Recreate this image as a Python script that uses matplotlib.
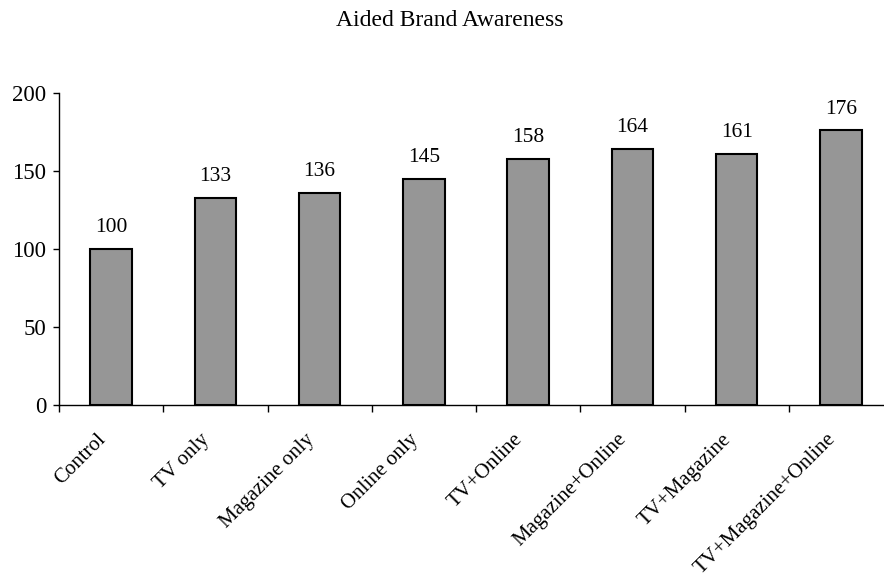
import matplotlib
matplotlib.use("Agg")
import matplotlib.pyplot as plt
import matplotlib.transforms as mtransforms
import numpy as np

categories = ["Control", "TV only", "Magazine only", "Online only", "TV+Online",
              "Magazine+Online", "TV+Magazine", "TV+Magazine+Online"]
values = [100, 133, 136, 145, 158, 164, 161, 176]
yticks = [0, 50, 100, 150, 200]
title = "Aided Brand Awareness"

plt.rcParams['font.family'] = ['Liberation Serif', 'DejaVu Serif']

fig = plt.figure(figsize=(8.84, 5.77), dpi=100)
ax = fig.add_axes([59/884, 1-405/577, (893-59)/884, (405-93)/577])

x = np.arange(len(categories))
ax.bar(x, values, width=0.4, color="#969696", edgecolor="black", linewidth=1.5, zorder=3)
for xi, v in zip(x, values):
    ax.annotate(str(v), (xi, v), xytext=(0, 12), textcoords="offset points",
                ha="center", va="baseline", fontsize=15.5)

ax.set_xlim(-0.5, len(categories) - 0.5)
ax.set_ylim(0, 200)
ax.set_yticks(yticks)
ax.tick_params(axis='y', labelsize=16.5, length=4, width=1, direction='out', pad=5)

ax.set_xticks(x)
ax.set_xticklabels(categories, rotation=45, ha='right', va='top',
                   rotation_mode='anchor', fontsize=15)
ax.tick_params(axis='x', which='major', length=0, pad=18)
shift = mtransforms.ScaledTranslation(-15/100, 0, fig.dpi_scale_trans)
for lab in ax.get_xticklabels():
    lab.set_transform(lab.get_transform() + shift)
ax.set_xticks(np.arange(len(categories)) - 0.5, minor=True)
ax.tick_params(axis='x', which='minor', length=5, width=1, direction='out')

for s in ['top', 'right']:
    ax.spines[s].set_visible(False)
for s in ['left', 'bottom']:
    ax.spines[s].set_linewidth(1)

fig.text(450/884, 1-20/577, title, ha='center', va='center', fontsize=17)

fig.savefig("out.png", dpi=100)
